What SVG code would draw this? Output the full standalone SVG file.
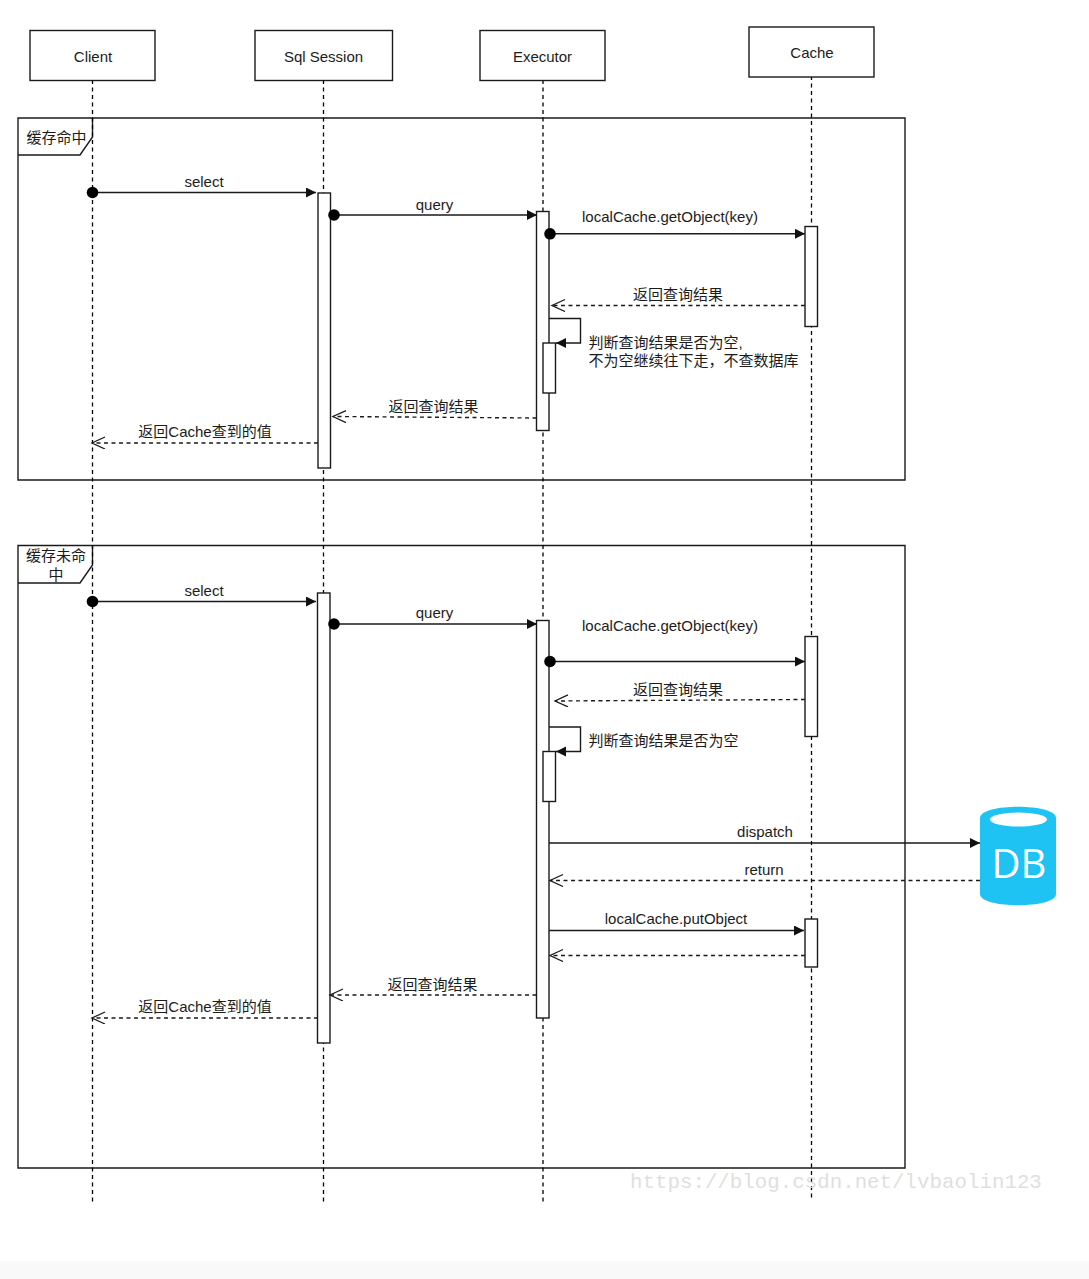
<svg xmlns="http://www.w3.org/2000/svg" width="1089" height="1279" viewBox="0 0 1089 1279">
<style>
text{font-family:"Liberation Sans","Noto Sans CJK SC",sans-serif;font-size:15px;fill:#1c1c1c;text-anchor:middle}
.l{text-anchor:start}
.b{fill:#fff;stroke:#1a1a1a;stroke-width:1.4}
.frame{fill:none;stroke:#1a1a1a;stroke-width:1.4}
.life{fill:none;stroke:#000;stroke-width:1.3;stroke-dasharray:4 3.500}
.m{fill:none;stroke:#1a1a1a;stroke-width:1.4}
.s{marker-end:url(#solid)}
.r{stroke-dasharray:4 3.500;marker-end:url(#open)}
.d{fill:#000}
</style>
<defs>
<marker id="solid" markerUnits="userSpaceOnUse" markerWidth="12" markerHeight="12" refX="10" refY="5" orient="auto"><path d="M0 0L10 5L0 10Z" fill="#111"/></marker>
<marker id="open" markerUnits="userSpaceOnUse" markerWidth="16" markerHeight="14" refX="14" refY="6" orient="auto"><path d="M1 0L14 6L1 12" fill="none" stroke="#1a1a1a" stroke-width="1.3"/></marker>
</defs>
<rect width="1089" height="1279" fill="#fff"/>
<rect y="1261" width="1089" height="18" fill="#f9f9f9"/>
<g id="frame1"><path class="frame" d="M18 118H905V480H18Z"/><path class="frame" d="M18 155H80L92.500 137V118"/><text x="56.500" y="143">缓存命中</text></g>
<g id="frame2"><path class="frame" d="M18 545.500H905V1168H18Z"/><path class="frame" d="M18 583H80L92.500 565V545.500"/><text x="56" y="561">缓存未命</text><text x="56" y="580">中</text></g>
<g id="lifelines">
<path class="life" d="M92.500 80V1202"/><path class="life" d="M323.500 80V1202"/><path class="life" d="M543 80V1202"/><path class="life" d="M811.500 76V1198"/>
</g>
<g id="client"><rect class="b" x="30" y="30.500" width="125" height="50"/><text x="93" y="62">Client</text></g>
<g id="sqlsession"><rect class="b" x="255" y="30.500" width="137.500" height="50"/><text x="323.500" y="62">Sql Session</text></g>
<g id="executor"><rect class="b" x="480" y="30.500" width="125" height="50"/><text x="542.500" y="62">Executor</text></g>
<g id="cache"><rect class="b" x="749" y="27" width="125" height="50"/><text x="812" y="58">Cache</text></g>
<g id="activations">
<rect class="b" x="318" y="193" width="12.500" height="275"/>
<rect class="b" x="536.500" y="211.500" width="12.500" height="219"/>
<rect class="b" x="805" y="226.500" width="12.500" height="100"/>
<rect class="b" x="543" y="343" width="12.500" height="50"/>
<rect class="b" x="317.500" y="593" width="12.500" height="450"/>
<rect class="b" x="536.500" y="620.500" width="12.500" height="397.500"/>
<rect class="b" x="805" y="636.500" width="12.500" height="100"/>
<rect class="b" x="543" y="751.500" width="12.500" height="50"/>
<rect class="b" x="805" y="919" width="12.500" height="48"/>
</g>
<g id="connectors">
<path class="m s" d="M92.500 192.500H316"/><circle class="d" cx="92.500" cy="192.500" r="5.800"/>
<path class="m s" d="M334 215H537"/><circle class="d" cx="334" cy="215" r="5.800"/>
<path class="m s" d="M550 233.800H805"/><circle class="d" cx="550" cy="233.800" r="5.800"/>
<path class="m r" d="M805 305.500H552"/>
<path class="m s" d="M549 318.500H580.500V343H556"/>
<path class="m r" d="M536.500 418L333 416.500"/>
<path class="m r" d="M318 443H92"/>
<path class="m s" d="M92.500 601.500H316"/><circle class="d" cx="92.500" cy="601.500" r="5.800"/>
<path class="m s" d="M334 624H537"/><circle class="d" cx="334" cy="624" r="5.800"/>
<path class="m s" d="M550 661.500H805"/><circle class="d" cx="550" cy="661.500" r="5.800"/>
<path class="m r" d="M805 699.500L555 701"/>
<path class="m s" d="M549 727H580.500V751.500H556"/>
<path class="m s" d="M549 843H980"/>
<path class="m r" d="M980 880.500H550"/>
<path class="m s" d="M549 930.500H804"/>
<path class="m r" d="M805 955.500H550"/>
<path class="m r" d="M536.500 995H330"/>
<path class="m r" d="M318 1018H92"/>
</g>
<g id="labels">
<text x="204" y="187">select</text>
<text x="434.500" y="210">query</text>
<text x="670" y="222">localCache.getObject(key)</text>
<text x="678" y="299.500">返回查询结果</text>
<text class="l" x="588.500" y="348">判断查询结果是否为空,</text>
<text class="l" x="588.500" y="366">不为空继续往下走，不查数据库</text>
<text x="433.500" y="411.500">返回查询结果</text>
<text x="205" y="436.500">返回Cache查到的值</text>
<text x="204" y="596">select</text>
<text x="434.500" y="618">query</text>
<text x="670" y="630.500">localCache.getObject(key)</text>
<text x="678" y="694.500">返回查询结果</text>
<text class="l" x="588.500" y="745.500">判断查询结果是否为空</text>
<text x="765" y="837">dispatch</text>
<text x="764" y="875">return</text>
<text x="676" y="924">localCache.putObject</text>
<text x="432.500" y="989.500">返回查询结果</text>
<text x="205" y="1011.500">返回Cache查到的值</text>
</g>
<g id="db">
<path d="M980 818C980 803 1056 803 1056 818V894C1056 909 980 909 980 894Z" fill="#1ec3f3"/>
<ellipse cx="1018.500" cy="819.500" rx="28.500" ry="7" fill="#fff"/>
<text x="1019" y="878" style="font-family:'Open Sans','Liberation Sans',sans-serif;font-size:40px;fill:#fff">DB</text>
</g>
<text id="watermark" class="l" x="630" y="1188" style="font-family:'Liberation Mono',monospace;font-size:20.800px;fill:#dfdfdc">https://blog.csdn.net/lvbaolin123</text>
</svg>
